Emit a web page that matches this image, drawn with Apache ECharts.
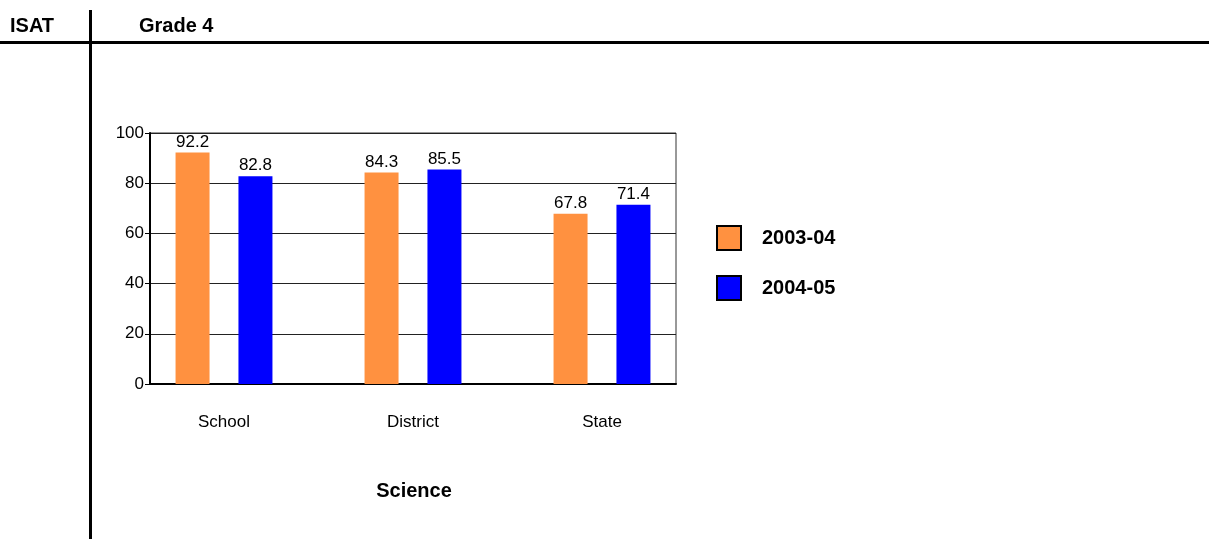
<!DOCTYPE html>
<html>
<head>
<meta charset="utf-8">
<script src="https://cdn.jsdelivr.net/npm/echarts@6/dist/echarts.min.js"></script>
<style>
html,body{margin:0;padding:0;background:#fff;}
#c{width:1209px;height:539px;}
</style>
</head>
<body>
<div id="c"></div>
<script>
const categories = ['School', 'District', 'State'];
const series2003 = [92.2, 84.3, 67.8];
const series2004 = [82.8, 85.5, 71.4];
const seriesNames = ['2003-04', '2004-05'];
const yTicks = [0, 20, 40, 60, 80, 100];

const FONT = 'Arial, "Liberation Sans", sans-serif';
const chart = echarts.init(document.getElementById('c'));
const yMin = yTicks[0], yMax = yTicks[yTicks.length - 1];
chart.setOption({
  backgroundColor: '#fff',
  animation: false,
  textStyle: { fontFamily: FONT },
  grid: [
    // frame grid
    { left: 150, top: 133, width: 526, height: 251, show: true, borderColor: '#333', borderWidth: 1, backgroundColor: 'transparent' },
    // bar grid
    { left: 129.5, top: 133, width: 567, height: 251, show: false }
  ],
  legend: {
    orient: 'vertical', left: 716, top: 225, padding: 0,
    itemWidth: 24, itemHeight: 24, itemGap: 24,
    icon: 'rect',
    data: seriesNames,
    itemStyle: { borderColor: '#000', borderWidth: 2 },
    textStyle: { fontFamily: FONT, fontSize: 20, fontWeight: 'bold', color: '#000', padding: [0, 0, 0, 16] }
  },
  xAxis: [
    { gridIndex: 0, type: 'value', min: 0, max: 1, show: true,
      axisLine: { show: true, onZero: false, lineStyle: { color: '#000', width: 2 } },
      axisTick: { show: false }, axisLabel: { show: false }, splitLine: { show: false } },
    { gridIndex: 1, type: 'category', data: categories,
      axisLine: { show: false },
      axisTick: { show: false },
      axisLabel: { color: '#000', fontSize: 17, margin: 30 } }
  ],
  yAxis: [
    { gridIndex: 0, type: 'value', min: yMin, max: yMax, interval: 20,
      axisLine: { show: true, lineStyle: { color: '#000', width: 2 } },
      axisTick: { show: true, length: 5, lineStyle: { color: '#000' } },
      axisLabel: { color: '#000', fontSize: 17, margin: 6 },
      splitLine: { lineStyle: { color: '#222', width: 1 } } },
    { gridIndex: 1, type: 'value', min: yMin, max: yMax, interval: 20, show: false, splitLine: { show: false } }
  ],
  series: [
    {
      name: seriesNames[0], type: 'bar', xAxisIndex: 1, yAxisIndex: 1, data: series2003, barWidth: 34, barGap: '85%',
      itemStyle: { color: '#FF9140' },
      label: { show: true, position: 'top', distance: 2, color: '#000', fontSize: 17 }
    },
    {
      name: seriesNames[1], type: 'bar', xAxisIndex: 1, yAxisIndex: 1, data: series2004, barWidth: 34, barGap: '85%',
      itemStyle: { color: '#0000FF' },
      label: { show: true, position: 'top', distance: 2, color: '#000', fontSize: 17 }
    }
  ],
  graphic: [
    { type: 'text', left: 10, top: 16, style: { text: 'ISAT', font: 'bold 20px ' + FONT, fill: '#000' } },
    { type: 'text', left: 139, top: 16, style: { text: 'Grade 4', font: 'bold 20px ' + FONT, fill: '#000' } },
    { type: 'rect', shape: { x: 0, y: 41, width: 1209, height: 3 }, style: { fill: '#000' } },
    { type: 'rect', shape: { x: 89, y: 10, width: 3, height: 529 }, style: { fill: '#000' } },
    { type: 'text', x: 414, y: 491, style: { text: 'Science', font: 'bold 20px ' + FONT, fill: '#000', align: 'center', verticalAlign: 'middle' } }
  ]
});
</script>
</body>
</html>
